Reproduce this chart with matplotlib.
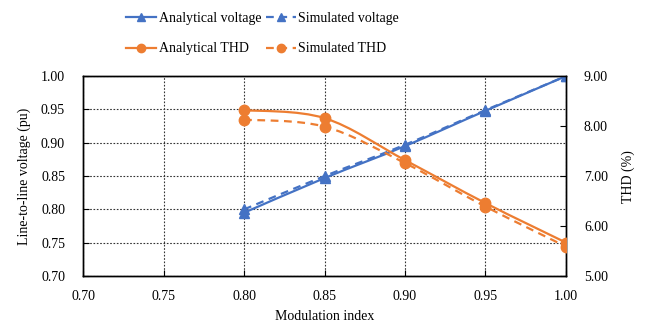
import matplotlib
matplotlib.use("Agg")
import matplotlib.pyplot as plt
from matplotlib.path import Path
from matplotlib.patches import PathPatch
from matplotlib.lines import Line2D

plt.rcParams['font.family'] = ['Liberation Serif', 'DejaVu Serif']
plt.rcParams['font.size'] = 10

mod_index = [0.80, 0.85, 0.90, 0.95, 1.00]
v_analytical = [0.795, 0.847, 0.895, 0.948, 1.000]
v_simulated = [0.800, 0.850, 0.897, 0.949, 1.000]
thd_analytical = [8.32, 8.16, 7.32, 6.46, 5.67]
thd_simulated = [8.13, 7.99, 7.26, 6.39, 5.59]

x_ticks = [0.70, 0.75, 0.80, 0.85, 0.90, 0.95, 1.00]
y_left_ticks = [0.70, 0.75, 0.80, 0.85, 0.90, 0.95, 1.00]
y_right_ticks = [5.0, 6.0, 7.0, 8.0, 9.0]

BLUE = '#4472C4'
ORANGE = '#ED7D31'


def smooth_path(xs, ys):
    pts = list(zip(xs, ys))
    n = len(pts)
    verts = [pts[0]]
    codes = [Path.MOVETO]
    for i in range(n - 1):
        p0 = pts[i - 1] if i > 0 else pts[i]
        p1 = pts[i]
        p2 = pts[i + 1]
        p3 = pts[i + 2] if i + 2 < n else pts[i + 1]
        c1 = (p1[0] + (p2[0] - p0[0]) / 6, p1[1] + (p2[1] - p0[1]) / 6)
        c2 = (p2[0] - (p3[0] - p1[0]) / 6, p2[1] - (p3[1] - p1[1]) / 6)
        verts += [c1, c2, p2]
        codes += [Path.CURVE4] * 3
    return Path(verts, codes)


def draw(ax, xs, ys, color, ls, marker):
    patch = PathPatch(smooth_path(xs, ys), fill=False, edgecolor=color,
                      linewidth=1.6, linestyle=ls, zorder=3)
    ax.add_patch(patch)
    ax.plot(xs, ys, linestyle='none', marker=marker, color=color,
            markersize=7.5, zorder=4)


fig = plt.figure(figsize=(6.49, 3.31), dpi=100)
ax = fig.add_axes([0.128, 0.166, 0.744, 0.604])
ax2 = ax.twinx()

dash = (0, (3.5, 2.5))
draw(ax, mod_index, v_analytical, BLUE, '-', '^')
draw(ax, mod_index, v_simulated, BLUE, dash, '^')
draw(ax2, mod_index, thd_analytical, ORANGE, '-', 'o')
draw(ax2, mod_index, thd_simulated, ORANGE, dash, 'o')

ax.set_xlim(0.70, 1.00)
ax.set_ylim(0.70, 1.00)
ax2.set_ylim(5.0, 9.0)
ax.set_xticks(x_ticks)
ax.set_xticklabels([f'{t:.2f}' for t in x_ticks])
ax.set_yticks(y_left_ticks)
ax.set_yticklabels([f'{t:.2f}' for t in y_left_ticks])
ax2.set_yticks(y_right_ticks)
ax2.set_yticklabels([f'{t:.2f}' for t in y_right_ticks])

ax.grid(True, color='#333333', linestyle=(0, (1.5, 1.5)), linewidth=0.8)
ax.set_axisbelow(True)
for a in (ax, ax2):
    for s in a.spines.values():
        s.set_color('black')
        s.set_linewidth(1.0)
ax.tick_params(axis='both', direction='in', length=4, width=0.8, pad=13)
ax.tick_params(axis='x', pad=10)
ax2.tick_params(axis='y', direction='in', length=4, width=0.8, pad=13)

ax.set_xlabel('Modulation index', labelpad=5)
ax.set_ylabel('Line-to-line voltage (pu)', labelpad=7)
ax2.set_ylabel('THD (%)', labelpad=10)

handles = [
    Line2D([], [], color=BLUE, lw=1.6, marker='^', markersize=6),
    Line2D([], [], color=ORANGE, lw=1.6, marker='o', markersize=6),
    Line2D([], [], color=BLUE, lw=1.6, ls=dash, marker='^', markersize=6),
    Line2D([], [], color=ORANGE, lw=1.6, ls=dash, marker='o', markersize=6),
]
labels = ['Analytical voltage', 'Analytical THD', 'Simulated voltage', 'Simulated THD']
fig.legend(handles, labels, ncol=2, loc='center', bbox_to_anchor=(0.405, 0.898),
           frameon=False, handlelength=2.15, columnspacing=0.3, handletextpad=0.2,
           labelspacing=1.25, fontsize=10)

fig.savefig('out.png', dpi=100)
